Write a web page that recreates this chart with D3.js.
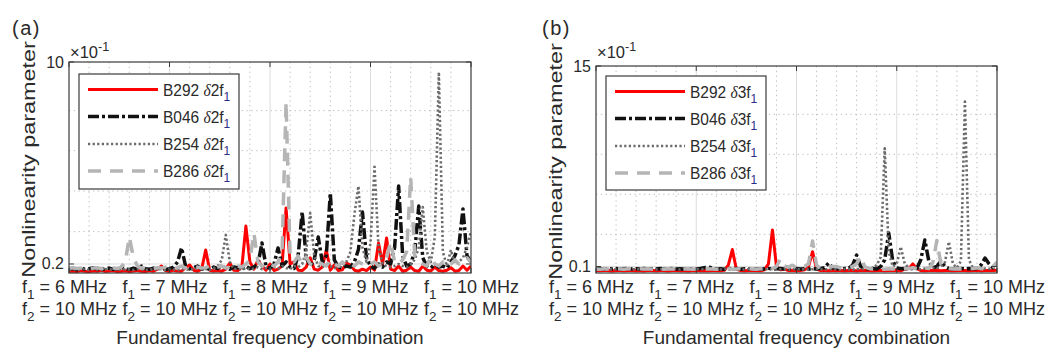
<!DOCTYPE html>
<html>
<head>
<meta charset="utf-8">
<script src="https://cdn.jsdelivr.net/npm/d3@7"></script>
<style>
  body { margin: 0; background: #fff; }
  svg text { font-family: "Liberation Sans", Arial, sans-serif; fill: #2a2a2a; }
</style>
</head>
<body>
<svg id="fig" width="1045" height="349"></svg>
<script>
// tick labels / categories
const f1Labels = ["6", "7", "8", "9", "10"];
const f2Labels = ["10", "10", "10", "10", "10"];
const seriesNames = ["B292", "B046", "B254", "B286"];
const yTicksA = [0.2, 10];
const yTicksB = [0.1, 15];
const yGridA = [1.77, 3.74, 5.70, 7.64];
const yGridB = [2.49, 5.47, 8.44, 11.41];

// (a) delta 2f1, values in units of 1e-1, 101 samples across the 5 combinations
const aRed = [
  -0.15, -0.14, -0.16, -0.12, -0.15, -0.17, -0.13, -0.15, -0.1, -0.16,
  -0.14, -0.12, -0.16, -0.15, -0.13, -0.17, -0.14, -0.1, -0.15, -0.16,
  -0.12, -0.15, -0.05, 0.1, -0.12, -0.16, -0.1, -0.14, -0.15, 0.02,
  0.15, -0.1, -0.15, -0.05, 0.88, -0.1, -0.14, -0.12, -0.15, -0.05,
  0.25, -0.1, -0.12, 0.05, 2.04, 0.3, -0.05, 0.39, 0.1, -0.1,
  0.2, -0.12, -0.05, 0.1, 2.92, 0.2, 0.3, -0.1, -0.12, 0.05,
  0.5, -0.05, -0.1, 0.05, 0.88, -0.1, 0.15, -0.12, -0.08, 0.25,
  0.15, -0.1, -0.15, -0.05, -0.12, 0.05, -0.1, 1.22, 0.2, 1.46,
  -0.05, -0.12, 0.1, -0.15, -0.1, 0.05, -0.12, -0.15, 0.1, -0.1,
  -0.14, 0.05, -0.12, -0.15, -0.1, 0.02, -0.15, -0.12, 0.1, -0.1,
  0.1
];
const aBlack = [
  -0.05, -0.02, -0.08, 0.0, -0.06, -0.03, 0.02, -0.05, -0.08, -0.02,
  0.0, -0.06, -0.03, 0.05, -0.04, -0.07, 0.0, -0.05, 0.1, -0.03,
  -0.06, 0.0, -0.04, 0.02, -0.07, -0.03, 0.05, 0.3, 0.98, 0.1,
  -0.04, 0.02, 0.1, -0.05, 0.0, -0.06, 0.05, -0.03, 0.15, -0.02,
  -0.05, 0.05, 0.02, -0.04, 0.1, -0.03, 0.05, 0.2, 1.22, 0.1,
  -0.02, 0.2, 0.98, 0.1, 0.3, 0.05, -0.02, 0.6, 2.72, 0.5,
  0.1, 0.4, 1.51, 0.3, 0.6, 3.64, 0.4, 0.05, 0.0, 0.1,
  0.05, 0.3, 0.9, 2.72, 0.5, 0.1, 0.0, 0.2, 0.05, 0.3,
  0.2, 1.0, 3.98, 0.6, 0.1, 0.2, 0.8, 3.01, 0.5, 0.1,
  0.0, 0.2, 0.05, 0.1, 0.0, 0.3, 0.6, 1.12, 2.87, 0.6,
  0.3
];
const aDot = [
  -0.08, -0.05, -0.1, -0.06, -0.04, -0.09, -0.05, -0.07, -0.1, -0.05,
  -0.06, -0.08, -0.04, -0.1, -0.05, -0.07, -0.09, -0.04, -0.06, -0.1,
  -0.05, -0.08, -0.06, -0.04, -0.09, -0.05, -0.07, -0.1, -0.04, -0.06,
  -0.08, -0.05, 0.0, -0.06, -0.04, -0.08, 0.0, 0.1, 0.4, 1.61,
  0.3, -0.05, -0.02, -0.08, 0.0, -0.06, -0.03, 0.05, -0.05, 0.0,
  -0.04, 0.05, -0.02, 0.1, 0.0, -0.05, 0.1, 0.05, 0.2, 0.8,
  2.67, 0.6, 0.1, 0.05, 0.2, 0.1, 0.0, 0.05, 0.1, 0.3,
  0.8, 2.6, 3.98, 1.0, 0.3, 1.2, 4.91, 1.0, 0.2, 0.1,
  0.05, 0.1, 0.2, 0.1, 0.05, 0.2, 0.4, 1.0, 2.96, 0.8,
  0.3, 1.5, 9.51, 0.8, 0.1, 0.88, 0.2, 0.3, 0.5, 1.0,
  1.8
];
const aLight = [
  0.0, 0.02, -0.02, 0.0, 0.03, -0.01, 0.0, 0.02, -0.02, 0.0,
  0.02, 0.0, -0.02, 0.05, 0.3, 1.51, 0.54, 0.1, 0.0, 0.02,
  0.0, -0.02, 0.02, 0.0, 0.05, 0.0, -0.02, 0.02, 0.1, 0.0,
  0.02, 0.0, 0.05, 0.0, 0.02, 0.1, 0.0, 0.05, 0.1, 0.0,
  0.05, 0.0, 0.1, 0.05, 0.2, 0.4, 1.70, 0.3, 0.1, 0.05,
  0.2, 0.1, 0.3, 0.8, 8.06, 0.6, 0.3, 0.59, 0.2, 0.54,
  0.2, 0.1, 0.3, 0.2, 0.1, 0.4, 0.2, 0.1, 0.3, 0.1,
  0.2, 0.1, 0.3, 0.2, 0.1, 0.2, 0.3, 0.1, 0.2, 0.5,
  1.27, 0.3, 0.2, 0.4, 0.8, 4.42, 0.6, 0.3, 0.2, 0.1,
  0.54, 0.2, 0.1, 0.3, 0.1, 0.2, 0.4, 0.2, 0.3, 0.5,
  0.3
];

// (b) delta 3f1
const bRed = [
  -0.2, -0.22, -0.18, -0.2, -0.24, -0.2, -0.18, -0.22, -0.2, -0.19,
  -0.22, -0.2, -0.24, -0.18, -0.2, -0.22, -0.2, -0.19, -0.23, -0.2,
  -0.18, -0.22, -0.2, -0.24, -0.2, -0.18, -0.21, -0.2, -0.22, -0.19,
  -0.2, -0.22, -0.18, 0.2, 1.36, -0.1, -0.2, -0.22, -0.2, -0.18,
  -0.2, -0.22, -0.15, 0.3, 2.81, 0.1, -0.15, -0.1, -0.2, -0.18,
  -0.22, -0.2, -0.15, 0.1, 1.20, -0.1, -0.2, -0.18, -0.22, -0.2,
  -0.18, -0.2, -0.22, -0.2, -0.19, -0.22, -0.2, -0.18, -0.2, -0.22,
  -0.2, -0.18, -0.22, -0.2, -0.19, -0.2, -0.22, -0.1, -0.05, 0.29,
  -0.05, -0.2, -0.22, -0.2, -0.18, -0.2, -0.22, -0.2, -0.19, -0.22,
  -0.2, -0.18, -0.2, -0.22, -0.2, -0.18, -0.22, -0.2, -0.19, -0.2,
  -0.18
];
const bBlack = [
  -0.08, -0.05, -0.1, -0.06, -0.08, -0.04, -0.1, -0.07, -0.05, -0.09,
  -0.06, -0.08, -0.04, -0.1, -0.06, -0.08, -0.05, -0.1, -0.07, -0.04,
  -0.08, -0.06, -0.1, -0.05, -0.08, -0.06, -0.04, 0.0, 0.1, -0.05,
  -0.08, -0.06, -0.1, -0.05, -0.08, -0.04, -0.1, -0.06, -0.08, -0.05,
  -0.1, -0.06, -0.08, -0.04, -0.1, -0.06, -0.05, -0.08, -0.1, -0.06,
  -0.04, -0.08, -0.06, -0.1, -0.05, -0.08, -0.04, 0.0, 0.36, 0.0,
  -0.06, -0.08, -0.05, -0.04, 0.2, 0.95, 0.1, -0.06, -0.08, -0.05,
  -0.08, 0.1, 0.6, 2.59, 0.5, 0.0, -0.06, -0.05, -0.08, -0.04,
  -0.05, 0.6, 2.07, 0.5, 0.0, 0.1, 0.51, 0.1, -0.05, -0.08,
  -0.06, -0.04, -0.08, -0.05, -0.06, -0.04, 0.2, 0.73, 0.3, 0.0,
  0.1
];
const bDot = [
  -0.1, -0.12, -0.08, -0.1, -0.13, -0.1, -0.08, -0.12, -0.1, -0.09,
  -0.12, -0.1, -0.13, -0.08, -0.1, -0.12, -0.1, -0.09, -0.13, -0.1,
  -0.08, -0.12, -0.1, -0.13, -0.1, -0.08, -0.11, -0.1, -0.12, -0.09,
  -0.1, -0.12, -0.08, -0.1, -0.13, -0.1, -0.08, -0.12, -0.1, -0.09,
  -0.12, -0.1, -0.13, -0.08, -0.1, -0.12, -0.1, -0.09, -0.13, -0.1,
  -0.08, -0.12, -0.1, -0.13, -0.1, -0.08, -0.11, -0.1, -0.12, -0.09,
  -0.1, -0.12, -0.08, -0.1, -0.13, -0.1, -0.08, -0.1, -0.05, 0.0,
  0.2, 0.8, 8.88, 1.2, 0.1, 0.3, 1.57, 0.3, 0.0, -0.05,
  -0.08, -0.1, -0.05, -0.08, 0.0, -0.05, 0.1, 0.4, 1.94, 0.3,
  0.0, 0.5, 12.35, 0.6, 0.0, -0.08, -0.1, -0.05, -0.08, 0.0,
  0.1
];
const bLight = [
  -0.08, -0.1, -0.06, -0.08, -0.1, -0.07, -0.08, -0.1, -0.06, -0.08,
  -0.1, -0.07, -0.08, -0.06, -0.1, -0.08, -0.07, -0.1, -0.06, -0.08,
  -0.1, -0.07, -0.08, -0.06, -0.1, -0.08, -0.07, -0.1, -0.06, -0.08,
  -0.1, -0.07, -0.08, -0.06, -0.1, -0.08, -0.07, -0.1, -0.06, -0.08,
  -0.1, -0.07, -0.08, -0.06, -0.05, 0.1, 0.66, 0.15, 0.05, 0.2,
  0.0, 0.15, 0.1, 0.3, 1.99, 0.2, -0.05, 0.0, 0.05, 0.1,
  0.1, 0.0, -0.05, 0.0, 0.1, 0.3, 0.83, 0.1, -0.05, -0.08,
  -0.06, -0.08, -0.1, -0.06, -0.08, -0.07, -0.1, -0.06, -0.05, 0.0,
  -0.05, -0.08, 0.0, -0.05, 0.4, 2.03, 0.3, 0.0, -0.05, -0.08,
  -0.06, -0.08, -0.1, -0.06, -0.05, 0.0, -0.05, -0.08, 0.0, 0.1,
  0.43
];

const styles = [
  { color: "#ff0000", width: 3, dash: null },
  { color: "#111111", width: 3.5, dash: "11,3,3,3" },
  { color: "#6b6b6b", width: 2.6, dash: "2.2,2.4" },
  { color: "#b5b5b5", width: 3.5, dash: "13,9" }
];

const panels = [
  { tag: "(a)", tagX: 12, left: 69, right: 471, top: 62, bottom: 273,
    yDomain: [-0.237, 10], yTicks: yTicksA, yGrid: yGridA, harm: "2",
    data: [aRed, aBlack, aDot, aLight], legend: { x: 79, y: 74, w: 160, h: 115 } },
  { tag: "(b)", tagX: 542, left: 596, right: 997, top: 66, bottom: 273,
    yDomain: [-0.383, 15], yTicks: yTicksB, yGrid: yGridB, harm: "3",
    data: [bRed, bBlack, bDot, bLight], legend: { x: 606, y: 76, w: 160, h: 114 } }
];

const svg = d3.select("#fig");

// text with an optional vertical stretch (the y label of the original is drawn taller)
function addText(parent, x, y, size, stretch, extra) {
  return parent.append("text")
    .attr("transform", `translate(${x},${y}) scale(1,${stretch || 1})` + (extra || ""))
    .attr("font-size", size);
}

panels.forEach((p, pi) => {
  const g = svg.append("g");
  const n = p.data[0].length - 1;
  const x = d3.scaleLinear().domain([0, n]).range([p.left, p.right]);
  const y = d3.scaleLinear().domain(p.yDomain).range([p.bottom, p.top]);
  const majorX = d3.range(0, n + 1, n / 4);
  const minorX = d3.range(0, n + 1, n / 20).filter(v => !majorX.includes(v));

  // grid
  g.selectAll(".gx").data(minorX).join("line")
    .attr("x1", d => x(d)).attr("x2", d => x(d))
    .attr("y1", p.top).attr("y2", p.bottom)
    .attr("stroke", "#bcbcbc").attr("stroke-dasharray", "1.3,3.5");
  g.selectAll(".gy").data(p.yGrid).join("line")
    .attr("x1", p.left).attr("x2", p.right)
    .attr("y1", d => y(d)).attr("y2", d => y(d))
    .attr("stroke", "#bcbcbc").attr("stroke-dasharray", "1.3,3.5");
  g.selectAll(".gmx").data(majorX.slice(1, -1)).join("line")
    .attr("x1", d => x(d)).attr("x2", d => x(d))
    .attr("y1", p.top).attr("y2", p.bottom)
    .attr("stroke", "#dcdcdc");
  g.append("line")
    .attr("x1", p.left).attr("x2", p.right)
    .attr("y1", y(p.yTicks[0])).attr("y2", y(p.yTicks[0]))
    .attr("stroke", "#dcdcdc");

  // data
  const clipId = "clip" + pi;
  svg.append("clipPath").attr("id", clipId).append("rect")
    .attr("x", p.left).attr("y", p.top)
    .attr("width", p.right - p.left).attr("height", p.bottom - p.top);
  const line = d3.line().x((d, i) => x(i)).y(d => y(d));
  const dg = g.append("g").attr("clip-path", `url(#${clipId})`);
  p.data.forEach((s, si) => {
    const st = styles[si];
    dg.append("path").datum(s)
      .attr("d", line)
      .attr("fill", "none")
      .attr("stroke", st.color)
      .attr("stroke-width", st.width)
      .attr("stroke-linejoin", "round")
      .attr("stroke-dasharray", st.dash);
  });

  // box
  g.append("rect")
    .attr("x", p.left).attr("y", p.top)
    .attr("width", p.right - p.left).attr("height", p.bottom - p.top)
    .attr("fill", "none").attr("stroke", "#3a3a3a").attr("stroke-width", 1.2);

  // ticks
  p.yTicks.forEach(t => {
    g.append("line").attr("x1", p.left).attr("x2", p.left + 5)
      .attr("y1", y(t)).attr("y2", y(t)).attr("stroke", "#3a3a3a");
    g.append("line").attr("x1", p.right - 5).attr("x2", p.right)
      .attr("y1", y(t)).attr("y2", y(t)).attr("stroke", "#3a3a3a");
    addText(g, p.left - 5, y(t), 16)
      .attr("text-anchor", "end").attr("dominant-baseline", "central").text(t);
  });
  majorX.forEach(t => {
    g.append("line").attr("x1", x(t)).attr("x2", x(t))
      .attr("y1", p.top).attr("y2", p.top + 5).attr("stroke", "#3a3a3a");
    g.append("line").attr("x1", x(t)).attr("x2", x(t))
      .attr("y1", p.bottom).attr("y2", p.bottom - 5).attr("stroke", "#3a3a3a");
  });

  // x tick labels (two rows)
  majorX.forEach((t, i) => {
    const rows = [["1", f1Labels[i]], ["2", f2Labels[i]]];
    rows.forEach((r, ri) => {
      const tx = addText(g, x(t) - 47, 293 + ri * 22, 18);
      tx.append("tspan").text("f");
      tx.append("tspan").attr("dy", 6).attr("font-size", 13.5).text(r[0]);
      tx.append("tspan").attr("dy", -6).text(" = " + r[1] + " MHz");
    });
  });

  // axis titles
  addText(g, (p.left + p.right) / 2, 344, 19)
    .attr("text-anchor", "middle")
    .text("Fundamental frequency combination");
  addText(g, p.left - 34, (p.top + p.bottom) / 2 - 8, 18, 1.3, " rotate(-90)")
    .attr("text-anchor", "middle")
    .text("Nonlinearity parameter");

  // exponent
  const ex = addText(g, p.left + 1, 58, 16.5);
  ex.append("tspan").text("\u00d710");
  ex.append("tspan").attr("dy", -7).attr("font-size", 12.5).text("-1");

  // panel tag
  g.append("text").attr("x", p.tagX).attr("y", 35).attr("font-size", 20)
    .attr("letter-spacing", 1.5).text(p.tag);

  // legend
  const L = p.legend;
  const lg = g.append("g");
  lg.append("rect").attr("x", L.x).attr("y", L.y).attr("width", L.w).attr("height", L.h)
    .attr("fill", "#fff").attr("stroke", "#3a3a3a").attr("stroke-width", 1.2);
  const offs = [15.5, 42.5, 70, 97];
  seriesNames.forEach((name, si) => {
    const st = styles[si];
    const ly = L.y + offs[si];
    lg.append("line").attr("x1", L.x + 9).attr("x2", L.x + 79)
      .attr("y1", ly).attr("y2", ly)
      .attr("stroke", st.color).attr("stroke-width", st.width)
      .attr("stroke-dasharray", st.dash);
    const t = addText(lg, L.x + 84, ly + 6, 15.5, 1.08);
    t.append("tspan").text(name + " ");
    t.append("tspan").attr("font-family", "Liberation Serif, serif")
      .attr("font-style", "italic").text("\u03b4");
    t.append("tspan").text(p.harm + "f");
    t.append("tspan").attr("dy", 5).attr("font-size", 12)
      .style("fill", "#2b2f8a").text("1");
  });
});
</script>
</body>
</html>
